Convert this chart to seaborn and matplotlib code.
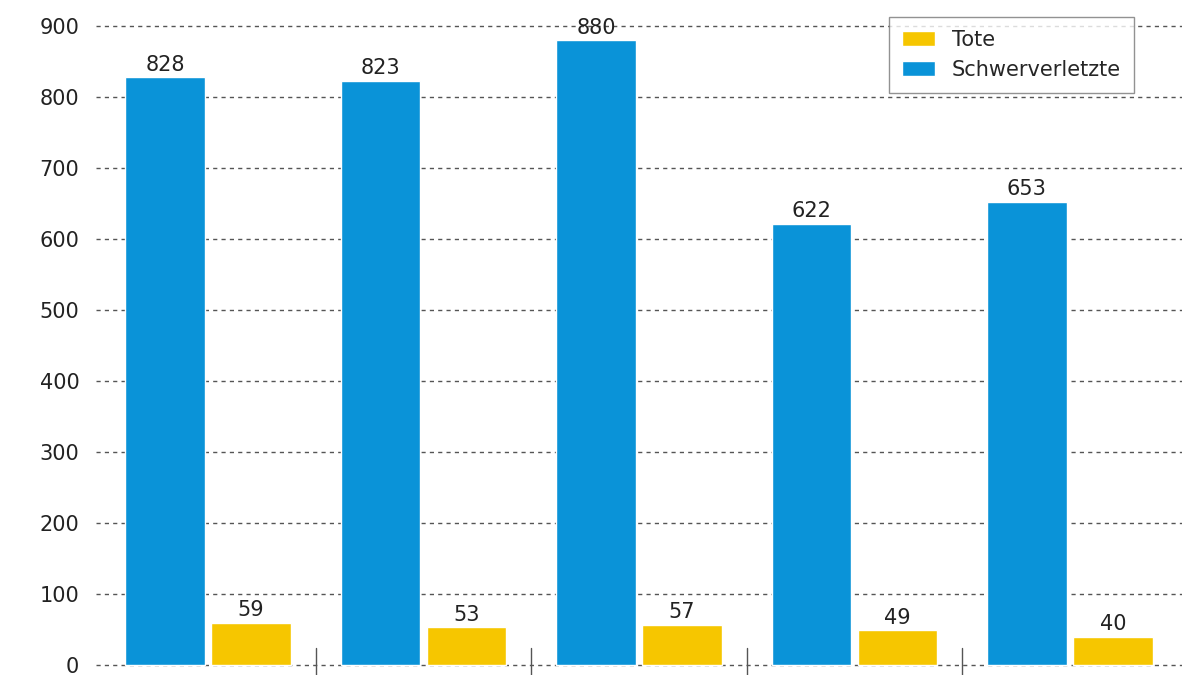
import seaborn as sns
import pandas as pd
import matplotlib.pyplot as plt

groups = ['A', 'B', 'C', 'D', 'E']
schwerverletzte = [828, 823, 880, 622, 653]
tote = [59, 53, 57, 49, 40]

df = pd.DataFrame({
    'group': groups * 2,
    'value': schwerverletzte + tote,
    'kind': ['Schwerverletzte'] * 5 + ['Tote'] * 5,
})

sns.set_style('white')
plt.rcParams['font.family'] = ['DejaVu Sans']
fig = plt.figure(figsize=(12, 6.75), dpi=100)
ax = fig.add_axes([0.08, 0.0, 0.905, 1.0])

colors = {'Schwerverletzte': '#0a93d8', 'Tote': '#f6c600'}
sns.barplot(data=df, x='group', y='value', hue='kind', palette=colors,
            width=0.8, gap=0.08, ax=ax, saturation=1, legend=True)

for cont in ax.containers:
    ax.bar_label(cont, fontsize=15, padding=2, color='#222222')

ax.set_ylim(-14, 937)
ax.set_xlim(-0.52, 4.52)
ax.set_yticks(range(0, 1000, 100))
ax.tick_params(axis='y', labelsize=15, length=0, pad=12, colors='#222222')
ax.set_xticks([])
ax.set_xlabel('')
ax.set_ylabel('')
ax.grid(axis='y', linestyle=(0, (3, 3)), color='#555555', linewidth=1)
ax.set_axisbelow(True)
for s in ax.spines.values():
    s.set_visible(False)
for xb in [0.5, 1.5, 2.5, 3.5]:
    ax.axvline(xb, ymin=0, ymax=0.04, color='#555555', linewidth=1)

h, l = ax.get_legend_handles_labels()
ax.legend([h[1], h[0]], [l[1], l[0]], loc='upper right', bbox_to_anchor=(0.965, 0.99),
          fontsize=15, frameon=True, edgecolor='#777777', fancybox=False,
          handlelength=1.6, borderpad=0.6)

fig.savefig('out.png', dpi=100)
